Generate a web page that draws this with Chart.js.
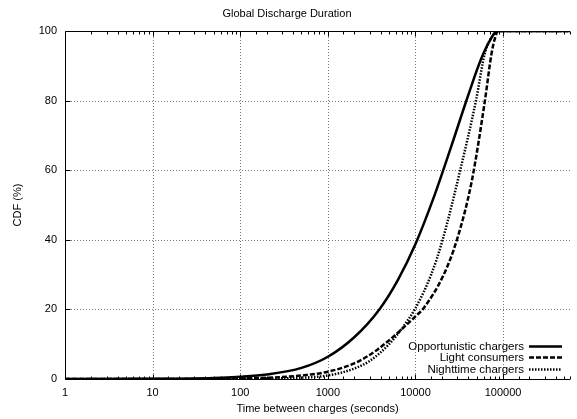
<!DOCTYPE html>
<html>
<head>
<meta charset="utf-8"/>
<title>Global Discharge Duration</title>
<style>
    html, body { margin: 0; padding: 0; background: #fff; }
    #wrap { width: 577px; height: 419px; }
</style>
<script src="https://cdn.jsdelivr.net/npm/chart.js@4"></script>
<script>
    // values (x in seconds, y in %)
    const opportunisticX = [1, 10, 50, 100, 200, 500, 1000, 2000, 3870, 6310, 10000, 15850, 25100, 39800, 56200, 70800, 85000, 100000, 580000];
    const opportunisticY = [0, 0.05, 0.3, 0.65, 1.3, 3.2, 6.4, 12, 20, 28.5, 38.8, 51.6, 66.2, 81.4, 92, 97.3, 100, 100, 100];

    const lightX = [1, 10, 100, 200, 500, 1000, 2000, 3700, 10000, 12500, 21000, 29700, 44000, 62000, 74000, 82000, 88000, 100000, 580000];
    const lightY = [0, 0, 0.15, 0.35, 1, 2.1, 4.5, 8.5, 18, 20.5, 30, 40, 57, 80, 93.7, 98.5, 100, 100, 100];

    const nightX = [1, 10, 100, 500, 1000, 2000, 3000, 5000, 7000, 10000, 15100, 20400, 32400, 49000, 62000, 78000, 87000, 100000, 580000];
    const nightY = [0, 0, 0.05, 0.4, 1, 3, 5.2, 10, 14.5, 20.4, 30, 40, 60, 80, 93.7, 99, 100, 100, 100];

    const seriesNames = ["Opportunistic chargers", "Light consumers", "Nighttime chargers"];
    const yTicks = [0, 20, 40, 60, 80, 100];

    function toPoints(xs, ys) {
        return xs.map((x, i) => ({ x: x, y: ys[i] }));
    }

    function isPow10(v) {
        const l = Math.log10(v);
        return Math.abs(l - Math.round(l)) < 1e-9;
    }

    // gnuplot style frame: dotted grid, border, inward ticks, legend at bottom right
    const framePlugin = {
        id: 'frame',
        beforeDatasetsDraw(chart) {
            const ctx = chart.ctx;
            const a = chart.chartArea;
            const xs = chart.scales.x, ys = chart.scales.y;
            ctx.save();
            ctx.strokeStyle = '#777';
            ctx.lineWidth = 1;
            ctx.setLineDash([1, 2]);
            xs.ticks.forEach((t) => {
                if (!isPow10(t.value) || t.value <= 1) return;
                const px = Math.round(xs.getPixelForValue(t.value)) + 0.5;
                ctx.beginPath();
                ctx.moveTo(px, a.top);
                ctx.lineTo(px, a.bottom);
                ctx.stroke();
            });
            yTicks.forEach((v) => {
                if (v === 0 || v === 100) return;
                const py = Math.round(ys.getPixelForValue(v)) + 0.5;
                ctx.beginPath();
                ctx.moveTo(a.left, py);
                ctx.lineTo(a.right, py);
                ctx.stroke();
            });
            ctx.restore();
        },
        afterDatasetsDraw(chart) {
            const ctx = chart.ctx;
            const a = chart.chartArea;
            const xs = chart.scales.x, ys = chart.scales.y;
            ctx.save();
            ctx.strokeStyle = '#000';
            ctx.lineWidth = 1;
            ctx.setLineDash([]);
            const L = Math.round(a.left) + 0.5, T = Math.round(a.top) + 0.5, B = Math.round(a.bottom) + 0.5;
            ctx.beginPath();
            ctx.moveTo(a.right, T);
            ctx.lineTo(L, T);
            ctx.lineTo(L, B);
            ctx.lineTo(a.right, B);
            ctx.stroke();
            // x ticks
            xs.ticks.forEach((t) => {
                const px = Math.round(xs.getPixelForValue(t.value)) + 0.5;
                const len = isPow10(t.value) ? 5 : 3;
                ctx.beginPath();
                ctx.moveTo(px, B); ctx.lineTo(px, B - len);
                ctx.moveTo(px, T); ctx.lineTo(px, T + len);
                ctx.stroke();
            });
            yTicks.forEach((v) => {
                const py = Math.round(ys.getPixelForValue(v)) + 0.5;
                ctx.beginPath();
                ctx.moveTo(L, py); ctx.lineTo(L + 5, py);
                ctx.stroke();
            });
            // legend
            ctx.font = '11.5px "Liberation Sans", Arial, sans-serif';
            ctx.fillStyle = '#000';
            ctx.textAlign = 'right';
            ctx.textBaseline = 'middle';
            const rows = [a.bottom - 33, a.bottom - 22, a.bottom - 10.5];
            chart.data.datasets.forEach((ds, i) => {
                const y = Math.round(rows[i]) + 0.5;
                ctx.fillText(ds.label, a.right - 46, y);
                ctx.lineWidth = ds.borderWidth;
                ctx.setLineDash(ds.borderDash || []);
                ctx.beginPath();
                ctx.moveTo(a.right - 41, y);
                ctx.lineTo(a.right - 8, y);
                ctx.stroke();
            });
            ctx.restore();
        }
    };

    function onStart() {
        const canvas = document.getElementById('chart').getContext('2d');
        Chart.defaults.font.family = '"Liberation Sans", Arial, sans-serif';
        Chart.defaults.font.size = 11;
        Chart.defaults.color = '#000';
        new Chart(canvas, {
            type: 'line',
            data: {
                datasets: [
                    { label: seriesNames[0], data: toPoints(opportunisticX, opportunisticY), borderColor: '#000', borderWidth: 2.5, borderDash: [] },
                    { label: seriesNames[1], data: toPoints(lightX, lightY), borderColor: '#000', borderWidth: 2.5, borderDash: [5, 2] },
                    { label: seriesNames[2], data: toPoints(nightX, nightY), borderColor: '#000', borderWidth: 2.5, borderDash: [1.5, 1.5] },
                ],
            },
            options: {
                responsive: false,
                animation: false,
                elements: { point: { radius: 0 }, line: { cubicInterpolationMode: 'monotone', fill: false } },
                layout: { padding: { left: 0, top: 0, right: 3, bottom: 0 } },
                plugins: {
                    legend: { display: false },
                    tooltip: { enabled: false },
                    title: {
                        display: true,
                        text: 'Global Discharge Duration',
                        font: { size: 11, weight: 'normal' },
                        color: '#000',
                        padding: { top: 7, bottom: 10.8 },
                    },
                },
                scales: {
                    x: {
                        type: 'logarithmic',
                        min: 1,
                        max: 580000,
                        grid: { display: false, drawTicks: false },
                        border: { display: false },
                        ticks: {
                            autoSkip: false,
                            maxRotation: 0,
                            padding: 7,
                            callback: (v) => isPow10(v) ? String(Math.round(v)) : '',
                        },
                        title: { display: true, text: 'Time between charges (seconds)', padding: { top: 0, bottom: 3 } },
                        afterFit: (s) => { s.height = 40; },
                    },
                    y: {
                        min: 0,
                        max: 100,
                        grid: { display: false, drawTicks: false },
                        border: { display: false },
                        ticks: { stepSize: 20, padding: 8 },
                        title: { display: true, text: 'CDF (%)', padding: { top: 11, bottom: 0 } },
                        afterFit: (s) => { s.width = 65; },
                    },
                },
            },
            plugins: [framePlugin],
        });
    }
</script>
</head>
<body onload="onStart();">
<div id="wrap"><canvas id="chart" width="577" height="419"></canvas></div>
</body>
</html>
